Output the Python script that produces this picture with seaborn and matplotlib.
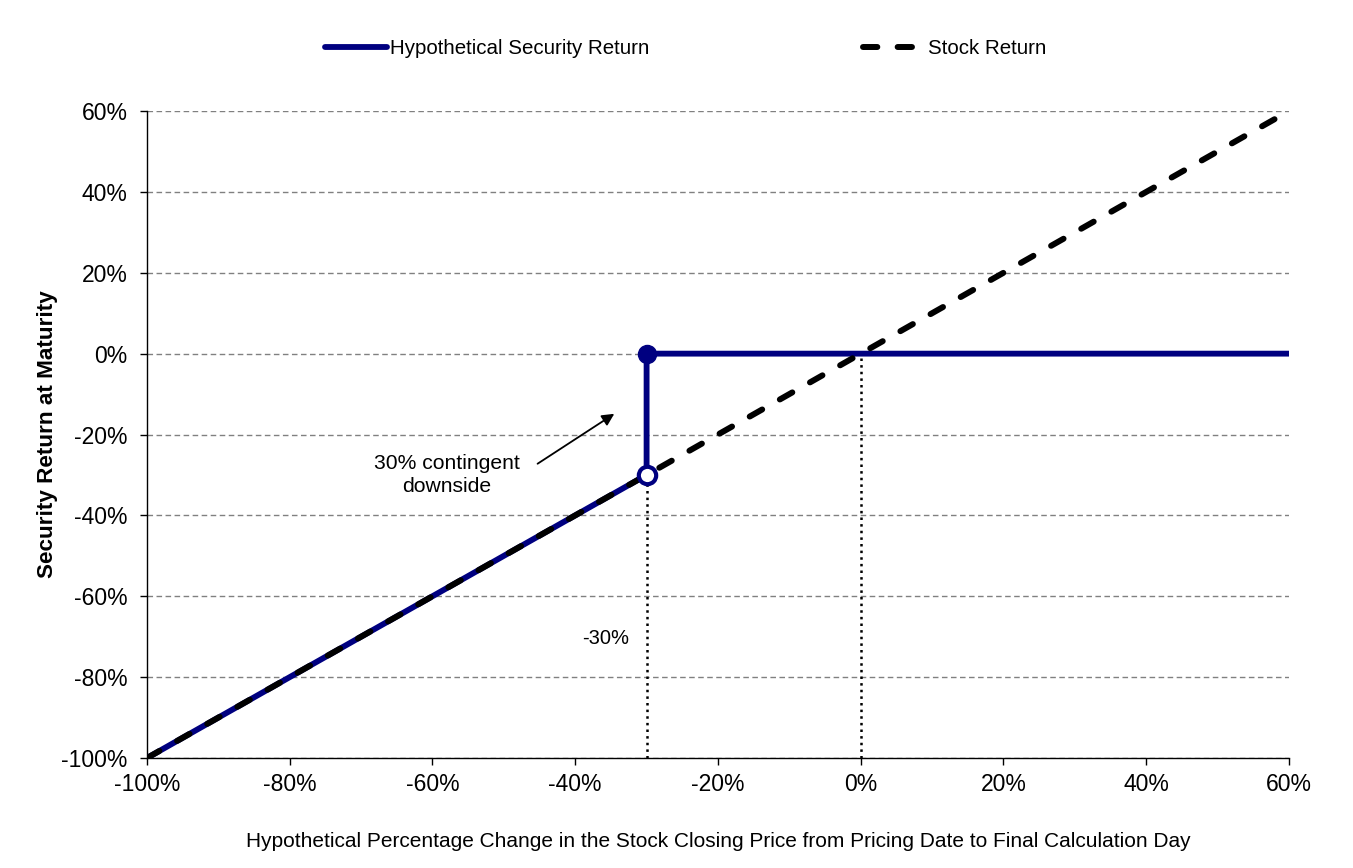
import numpy as np
import pandas as pd
import matplotlib
matplotlib.use("Agg")
import matplotlib.pyplot as plt
import seaborn as sns

# payoff data (percent)
sec_x = [-100, -30, -30, 60]
sec_y = [-100, -30, 0, 0]
stock_x = [-100, 60]
stock_y = [-100, 60]
barrier = -30
ticks = [-100, -80, -60, -40, -20, 0, 20, 40, 60]

sns.set_style("white")
plt.rcParams["font.family"] = ["Liberation Sans", "DejaVu Sans"]
plt.rcParams["text.color"] = "black"
plt.rcParams["axes.labelcolor"] = "black"
plt.rcParams["xtick.color"] = "black"
plt.rcParams["ytick.color"] = "black"

fig = plt.figure(figsize=(13.53, 8.68), dpi=100)
ax = fig.add_axes([0.1086, 0.1267, 0.8441, 0.7454])

navy = "#000080"
sec = pd.DataFrame({"x": sec_x, "y": sec_y})
stk = pd.DataFrame({"x": stock_x, "y": stock_y})

# dotted guides
ax.plot([barrier, barrier], [-100, barrier], color="black", ls=":", lw=1.8, zorder=2)
ax.plot([0, 0], [-100, 0], color="black", ls=":", lw=1.8, zorder=2)

sns.lineplot(data=sec, x="x", y="y", sort=False, estimator=None, ax=ax,
             color=navy, lw=4.2, label="Hypothetical Security Return", zorder=3)
sns.lineplot(data=stk, x="x", y="y", estimator=None, ax=ax, color="black", lw=4.3,
             label="Stock Return", zorder=4)
ax.lines[-1].set_dashes((2.4, 3.4))
ax.lines[-1].set_dash_capstyle("round")

ax.plot([barrier], [0], "o", color=navy, ms=13, zorder=6)
ax.plot([barrier], [barrier], "o", mfc="white", mec=navy, mew=3, ms=12.5, zorder=6)

ax.annotate("", xy=(-34.2, -14.5), xytext=(-45.6, -27.6),
            arrowprops=dict(arrowstyle="-|>", color="black", lw=1.3, mutation_scale=18))
ax.text(-58, -30, "30% contingent\ndownside", ha="center", va="center",
        fontsize=15.2, linespacing=1.25)
ax.text(-35.8, -70.4, "-30%", ha="center", va="center", fontsize=14.5)

ax.set_xlim(-100, 60)
ax.set_ylim(-100, 60)
ax.set_xticks(ticks)
ax.set_yticks(ticks)
ax.set_xticklabels([f"{t}%" for t in ticks], fontsize=16.5)
ax.set_yticklabels([f"{t}%" for t in ticks], fontsize=16.5)
ax.yaxis.grid(True, color="#808080", ls=(0, (4, 2.5)), lw=1)
ax.xaxis.grid(False)
ax.tick_params(axis="both", direction="out", length=5, width=1, color="black",
               left=True, bottom=True)
ax.tick_params(axis="y", pad=9)
ax.tick_params(axis="x", pad=6)
sns.despine(ax=ax)
for s in ["left", "bottom"]:
    ax.spines[s].set_color("black")
    ax.spines[s].set_linewidth(1)

ax.set_xlabel("Hypothetical Percentage Change in the Stock Closing Price from Pricing Date to Final Calculation Day",
              fontsize=15, labelpad=26)
ax.set_ylabel("Security Return at Maturity", fontsize=16.2, fontweight="bold", labelpad=2)

ax.legend(loc="upper center", bbox_to_anchor=(0.472, 1.14), ncol=2, frameon=False,
          fontsize=14.8, columnspacing=10.4, handlelength=3.0, handletextpad=0.15)

fig.savefig("out.png", dpi=100)
